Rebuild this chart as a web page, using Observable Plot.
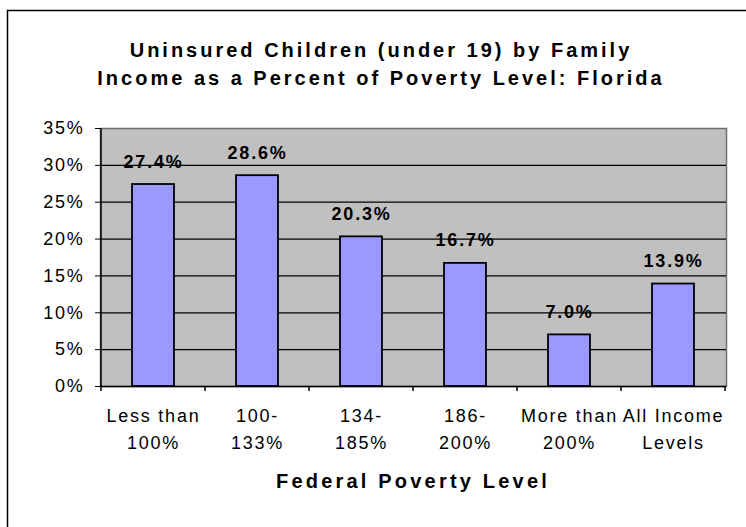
<!DOCTYPE html>
<html><head><meta charset="utf-8">
<script src="https://cdn.jsdelivr.net/npm/d3@7"></script>
<script src="https://cdn.jsdelivr.net/npm/@observablehq/plot@0.6"></script>
<style>
html,body{margin:0;padding:0;background:#fff;}
#chart svg text{font-family:"Liberation Sans",Arial,sans-serif;letter-spacing:1.75px;}
</style></head><body><div id="chart"></div>
<script>
const categories = ["Less than\n100%", "100-\n133%", "134-\n185%", "186-\n200%", "More than\n200%", "All Income\nLevels"];
const values = [27.4, 28.6, 20.3, 16.7, 7.0, 13.9];
const yTicks = [0, 5, 10, 15, 20, 25, 30, 35];
const gridTicks = [5, 10, 15, 20, 25, 30];
const titleLines = ["Uninsured Children (under 19) by Family", "Income as a Percent of Poverty Level: Florida"];
const xTitle = "Federal Poverty Level";

const data = categories.map((c, i) => ({category: c, value: values[i]}));

const plot = Plot.plot({
  width: 746, height: 527,
  marginLeft: 100, marginRight: 20, marginTop: 128, marginBottom: 141,
  style: {fontFamily: '"Liberation Sans", Arial, sans-serif', fontSize: "18px", background: "#fff", color: "#000", overflow: "visible"},
  x: {domain: categories, paddingInner: 0.6, paddingOuter: 0.3, label: null},
  y: {domain: [0, 35], label: null},
  marks: [
    Plot.frame({fill: "#C0C0C0", stroke: "#707070", strokeWidth: 1.5}),
    Plot.gridY(gridTicks, {stroke: "#000", strokeOpacity: 1, strokeWidth: 1.2}),
    Plot.barY(data, {x: "category", y: "value", fill: "#9999FF", stroke: "#000", strokeWidth: 1.8}),
    Plot.text(data, {x: "category", y: "value", text: d => d.value.toFixed(1) + "%", fontWeight: "bold", fontSize: 18, lineAnchor: "bottom", dy: -17, fill: "#000"}),
    Plot.ruleY([0], {stroke: "#000", strokeWidth: 1.5}),
    Plot.axisY(yTicks, {tickFormat: d => d + "%", tickSize: 5, tickPadding: 11, fontSize: 18, label: null, stroke: "#000"}),
    Plot.axisX({tickSize: 0, tickPadding: 16, fontSize: 18, lineHeight: 1.5, label: null})
  ]
});
document.getElementById("chart").appendChild(plot);

const svg = d3.select(plot);
const xs = plot.scale("x");
const ys = plot.scale("y");
const yZero = ys.apply(0), yTop = ys.apply(35);
const gap = (xs.step - xs.bandwidth) / 2;
const bounds = categories.map(c => xs.apply(c) - gap);
bounds.push(xs.apply(categories[categories.length - 1]) + xs.bandwidth + gap);
const g = svg.append("g");
g.selectAll("line.xt").data(bounds).join("line")
  .attr("x1", d => d).attr("x2", d => d).attr("y1", yZero).attr("y2", yZero + 5)
  .attr("stroke", "#000").attr("stroke-width", 1.5);
g.append("line").attr("x1", bounds[0]).attr("x2", bounds[0]).attr("y1", yTop).attr("y2", yZero)
  .attr("stroke", "#000").attr("stroke-width", 1.5);

titleLines.forEach((t, i) => {
  svg.append("text").attr("x", 381).attr("y", 57 + i * 28)
    .attr("text-anchor", "middle").attr("font-weight", "bold").attr("font-size", 20)
    .style("letter-spacing", "3px").attr("fill", "#000").text(t);
});
svg.append("text").attr("x", 413).attr("y", 488)
  .attr("text-anchor", "middle").attr("font-weight", "bold").attr("font-size", 20)
  .style("letter-spacing", "3.2px").attr("fill", "#000").text(xTitle);

svg.append("path").attr("d", "M7.5,527V10.5H746").attr("fill", "none").attr("stroke", "#000").attr("stroke-width", 1.5);
</script></body></html>
